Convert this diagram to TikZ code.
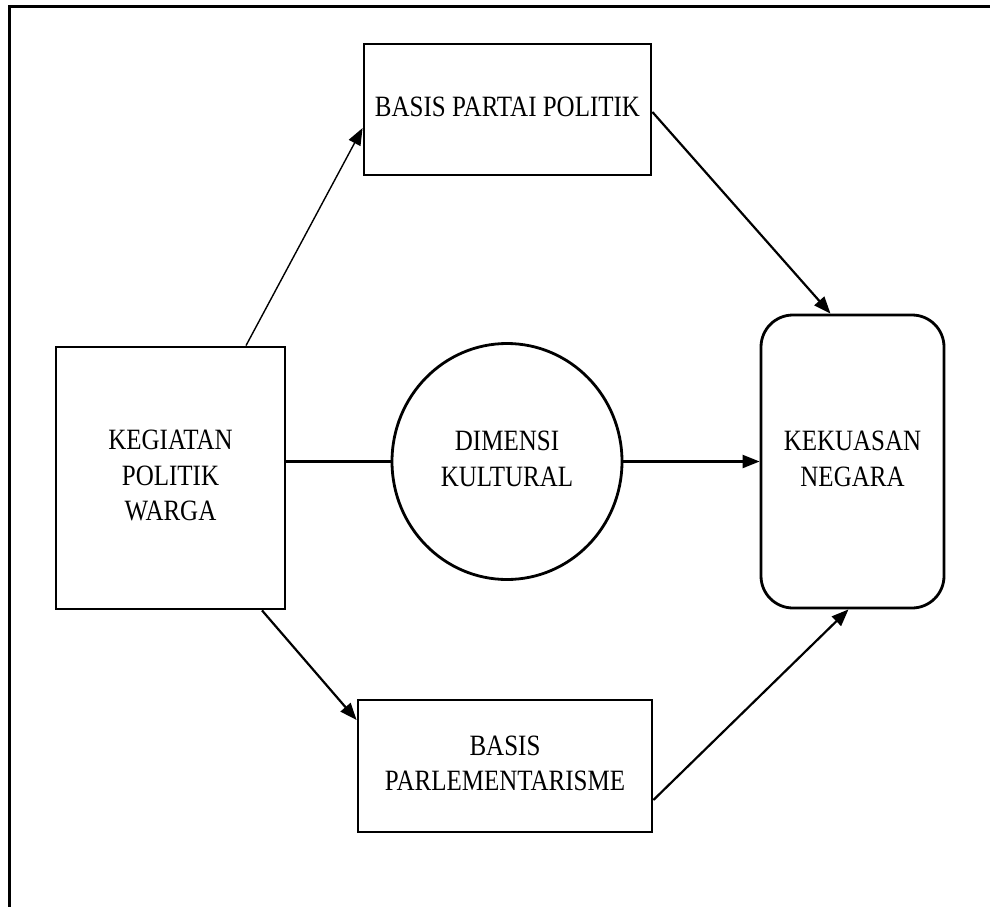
\documentclass[tikz,border=0pt]{standalone}
\usepackage{fontspec}
\setmainfont{Liberation Serif}
\usetikzlibrary{arrows.meta,shapes.geometric}
\newcommand{\boxtxt}[1]{\scalebox{1}[1.18]{\begin{tabular}{@{}c@{}}#1\end{tabular}}}
\begin{document}
\begin{tikzpicture}[x=1pt,y=-1pt,
  box/.style={draw,line width=2.8pt,rectangle,inner sep=0pt,align=center,
    font=\fontsize{25}{30}\selectfont},
  oval/.style={draw,line width=2.8pt,ellipse,inner sep=0pt,align=center,
    font=\fontsize{25}{30}\selectfont},
  conn/.style={line width=2.2pt,-{Triangle[length=17pt,width=13pt]}},
  thinconn/.style={line width=1.4pt,-{Triangle[length=17pt,width=13pt]}}]
\useasboundingbox (0,0) rectangle (990,907);
\fill[white] (0,0) rectangle (990,907);
\coordinate (f1) at (990,7);
\coordinate (f2) at (9,7);
\coordinate (f3) at (9,907);
\draw[line width=3pt] (f1) -- (f2) -- (f3);

\node[box,minimum width=229pt,minimum height=262pt] (keg) at (170.5,478) {\boxtxt{KEGIATAN\\POLITIK\\WARGA}};
\node[box,minimum width=287pt,minimum height=131pt] (bpp) at (507.5,109.5) {\boxtxt{BASIS PARTAI POLITIK}};
\node[oval,minimum width=230pt,minimum height=236pt] (ell) at (507,461.5) {\boxtxt{DIMENSI\\KULTURAL}};
\node[box,rounded corners=32pt,minimum width=183pt,minimum height=293pt] (kek) at (852.5,461.5) {\boxtxt{KEKUASAN\\NEGARA}};
\node[box,minimum width=294pt,minimum height=132pt] (parl) at (505,766) {\boxtxt{BASIS\\PARLEMENTARISME}};

\draw[thinconn] ([xshift=75.5pt]keg.north) -- ([yshift=-18.5pt]bpp.west);
\draw[conn] ([yshift=-2.5pt]bpp.east) -- ([xshift=-22pt]kek.north);
\draw[line width=2.2pt] (keg.east |- ell.west) -- (ell.west);
\draw[conn] (ell.east) -- (kek.west |- ell.east);
\draw[conn] ([xshift=91.5pt]keg.south) -- ([yshift=46pt]parl.west);
\draw[conn] ([yshift=-34pt]parl.east) -- ([xshift=-4pt]kek.south);
\end{tikzpicture}
\end{document}
